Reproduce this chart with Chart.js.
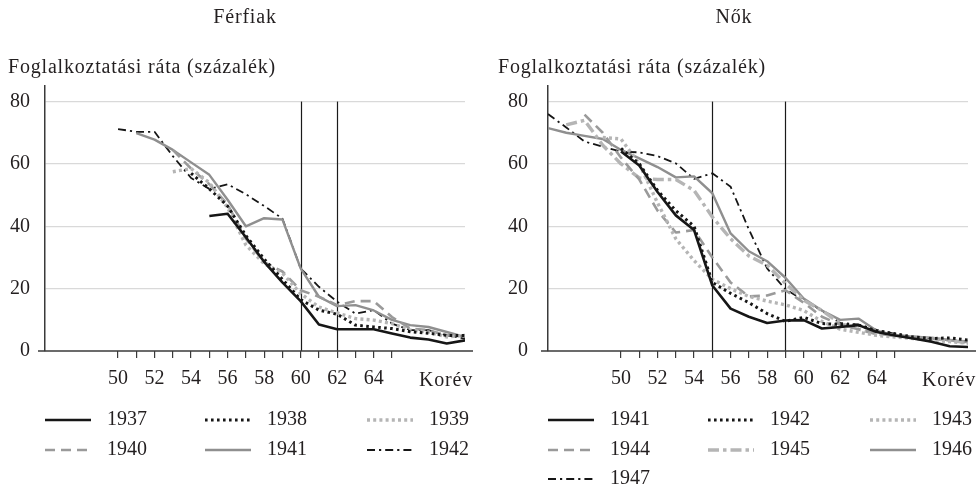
<!DOCTYPE html>
<html><head><meta charset="utf-8">
<script src="https://cdn.jsdelivr.net/npm/chart.js@4.4.0/dist/chart.umd.min.js"></script>
<style>
html,body{margin:0;padding:0;background:#fff;}
#wrap{position:relative;width:977px;height:487px;}
canvas{position:absolute;top:0;}
#c1{left:0;} #c2{left:489px;}
</style></head>
<body><div id="wrap"><canvas id="c1" width="488" height="487"></canvas><canvas id="c2" width="488" height="487"></canvas></div>
<script>
const ages = [46,47,48,49,50,51,52,53,54,55,56,57,58,59,60,61,62,63,64,65,66,67,68,69];
const tickAges = [50,51,52,53,54,55,56,57,58,59,60,61,62,63,64,65];
const yTicks = [0,20,40,60,80];
const axisLabel = 'Korév';
const yTitle = 'Foglalkoztatási ráta (százalék)';

const menTitle = 'Férfiak';
const menCohorts = ['1937','1938','1939','1940','1941','1942'];
const m1937 = [null,null,null,null,null,null,null,null,null,43.3,44,36.5,28.6,22,16,8.5,7,7,7,5.6,4.3,3.7,2.4,3.4];
const m1938 = [null,null,null,null,null,null,null,null,57,52,46.5,37,29.5,23,16.5,13.1,11.8,8.3,7.7,7.2,6.2,5.7,5,5];
const m1939 = [null,null,null,null,null,null,null,57.5,58.5,54,46,34,28,25,18.4,14.1,12.2,10.4,9.9,8.8,6.7,6.1,4.5,5];
const m1940 = [null,null,null,null,null,null,null,64.5,58.5,53.5,47,36,28.5,25.5,19.5,17.4,14.7,16,16,10.9,7.2,6.7,5,5];
const m1941 = [null,null,null,null,null,69.9,67.8,64.5,60.5,56.5,48.5,40,42.6,42.2,26.5,17.4,14.4,14.7,13,10,8.3,7.7,6.1,4.5];
const m1942 = [null,null,null,null,71.2,70.3,70.3,62.5,55.5,52,53.5,50.3,46.5,42.5,26.5,20.6,15.8,12,13.1,8.8,6.7,6.7,5,4];
const menLines = [60,62];

const womenTitle = 'Nők';
const womenCohorts = ['1941','1942','1943','1944','1945','1946','1947'];
const w1941 = [null,null,null,null,64,59.5,51,43.5,38.8,21,13.6,11,9,9.8,9.9,7.2,7.7,8.3,6.1,5,4,3,1.5,1.3];
const w1942 = [null,null,null,null,65,60,51.5,45,40,22,18.5,15.5,12,9.5,10.8,8.8,8.5,8.3,6.5,5.5,4.5,4,4.2,3.5];
const w1943 = [null,null,null,68.5,68,60,47.5,36,29,23,20,17.5,16,14.8,13,9.5,7,6,5,4.5,4,3.5,3,2.5];
const w1944 = [null,null,75.8,70,62,55,45,38,38.8,30,22,17.5,17.8,19.5,15.5,11,8.5,7,5.5,5,4.5,4,3.5,3];
const w1945 = [null,72.5,74,66,60,55.5,55,55,51.5,43,36,30.5,27.5,21.7,16.3,13,8.8,7,5.5,5,4.5,4,3.5,2.5];
const w1946 = [71.5,70,69,68,64.5,61.8,59,55.7,56,50.6,37.7,32,28.8,23.5,16.8,13,10,10.4,6.5,5,4.6,4.3,3.5,2.8];
const w1947 = [76,71.7,67.2,65.5,64,63.7,62.5,60.2,55.2,57,52.7,39,26.5,19.8,16.3,13,9,8.5,6.8,5.5,4.6,4,3.5,3];
const womenLines = [55,59];

// styles (kept separate from data)
const BLACK='#161616', GREY='#8f8f8f', DGREY='#9a9a9a', LIGHT='#b5b5b5';
const ST = {
  solidBlack:{c:BLACK,w:2.6,d:[]},
  dotBlack:{c:BLACK,w:3,d:[2.6,3.4]},
  dotLight:{c:LIGHT,w:3.4,d:[3,3.2]},
  dashGrey:{c:DGREY,w:2.6,d:[10,6]},
  solidGrey:{c:GREY,w:2.4,d:[]},
  dashDotBlack:{c:BLACK,w:1.8,d:[8,4,2.2,4]},
  dashDotLight:{c:LIGHT,w:3.4,d:[11,4,3.5,4]}
};
const menStyles=[ST.solidBlack,ST.dotBlack,ST.dotLight,ST.dashGrey,ST.solidGrey,ST.dashDotBlack];
const womenStyles=[ST.solidBlack,ST.dotBlack,ST.dotLight,ST.dashGrey,ST.dashDotLight,ST.solidGrey,ST.dashDotBlack];

const FONT='"Liberation Serif", "Times New Roman", serif';
const TXT='#231f20';

function mkData(arr){ return ages.map((a,i)=>({x:a,y:arr[i]})); }

const deco = {
  id:'deco',
  beforeDatasetsDraw(chart,args,o){
    const {ctx}=chart, xs=chart.scales.x, ys=chart.scales.y;
    ctx.save();
    ctx.strokeStyle='#1a1a1a'; ctx.lineWidth=1.2; ctx.setLineDash([]);
    o.vlines.forEach(v=>{
      const px=Math.round(xs.getPixelForValue(v))+0.5;
      ctx.beginPath(); ctx.moveTo(px,ys.getPixelForValue(0)); ctx.lineTo(px,ys.getPixelForValue(80)); ctx.stroke();
    });
    ctx.restore();
  },
  afterDraw(chart,args,o){
    const {ctx,chartArea:ca}=chart, ys=chart.scales.y;
    ctx.save();
    // x axis line
    ctx.strokeStyle='#3a3a3a'; ctx.lineWidth=1.5; ctx.setLineDash([]);
    const y0=ys.getPixelForValue(0);
    ctx.beginPath(); ctx.moveTo(ca.left-7,y0); ctx.lineTo(ca.right+8,y0); ctx.stroke();
    ctx.fillStyle=TXT;
    ctx.font='20px '+FONT;
    ctx.letterSpacing='0.8px';
    ctx.textBaseline='middle';
    ctx.textAlign='center';
    ctx.fillText(o.title,245,18);
    ctx.textAlign='left';
    ctx.fillText(yTitle,o.ytx,68);
    ctx.textAlign='right';
    ctx.fillText(axisLabel,ca.right+8,381);
    ctx.letterSpacing='0px';
    // legend
    const rows=[420,450,479];
    chart.data.datasets.forEach((ds,i)=>{
      const col=i%3,row=Math.floor(i/3);
      const x0=o.legX[col], y=rows[row];
      ctx.strokeStyle=ds.borderColor; ctx.lineWidth=ds.borderWidth; ctx.setLineDash(ds.borderDash||[]); ctx.lineCap='butt';
      ctx.beginPath(); ctx.moveTo(x0,y); ctx.lineTo(x0+46,y); ctx.stroke();
      ctx.setLineDash([]);
      ctx.fillStyle=TXT; ctx.textAlign='left'; ctx.textBaseline='middle';
      ctx.fillText(ds.label,x0+62,y);
    });
    ctx.restore();
  }
};

function build(id,labels,series,styles,vlines,title,yw,padR,ytx,legX,ypad){
  const datasets=series.map((s,i)=>({
    label:labels[i], data:mkData(s),
    borderColor:styles[i].c, borderWidth:styles[i].w, borderDash:styles[i].d,
    borderCapStyle:'butt', borderJoinStyle:'round',
    pointRadius:0, tension:0, spanGaps:false, fill:false
  }));
  return new Chart(document.getElementById(id),{
    type:'line',
    data:{datasets},
    plugins:[deco],
    options:{
      responsive:false, animation:false, events:[],
      layout:{padding:{top:86,left:0,right:padR,bottom:0}},
      plugins:{legend:{display:false},tooltip:{enabled:false},
        deco:{vlines,title,ytx,legX}},
      scales:{
        x:{type:'linear',min:46,max:69,
          afterBuildTicks(s){ s.ticks=tickAges.map(v=>({value:v})); },
          afterFit(s){ s.height=136; },
          grid:{drawOnChartArea:false,drawTicks:true,tickLength:7,color:'#3a3a3a',lineWidth:1.2},
          border:{display:false},
          ticks:{autoSkip:false,maxRotation:0,padding:9,color:TXT,font:{family:FONT,size:20},
            callback(v){ return (v%2===0 && v<=64)? String(v):''; }}
        },
        y:{min:0,max:85,
          afterBuildTicks(s){ s.ticks=yTicks.map(v=>({value:v})); },
          afterFit(s){ s.width=yw; },
          grid:{drawTicks:false,color(c){return c.tick && c.tick.value===0?'rgba(0,0,0,0)':'#d9d9d9';},lineWidth:1.2},
          border:{display:true,color:'#3a3a3a',width:1.5},
          ticks:{padding:ypad,color:TXT,font:{family:FONT,size:20}}
        }
      }
    }
  });
}

build('c1',menCohorts,[m1937,m1938,m1939,m1940,m1941,m1942],menStyles,menLines,menTitle,45,23,8,[45,205,367],15);
build('c2',womenCohorts,[w1941,w1942,w1943,w1944,w1945,w1946,w1947],womenStyles,womenLines,womenTitle,59,9,9,[59,219,381],20);
</script>
</body></html>
